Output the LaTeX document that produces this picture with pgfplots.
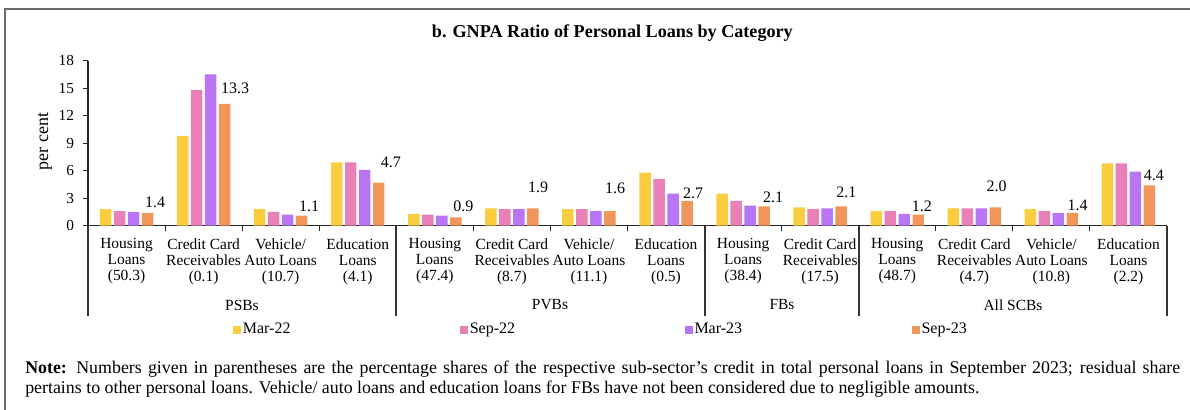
\documentclass[border=0pt]{standalone}
\usepackage{fontspec}
\setmainfont{Liberation Serif}
\usepackage{pgfplots}
\usepackage{pgfplotstable}
\pgfplotsset{compat=1.18}
\usetikzlibrary{calc}

\definecolor{cMarA}{HTML}{F9CD3D}
\definecolor{cSepA}{HTML}{E980B8}
\definecolor{cMarB}{HTML}{B876F5}
\definecolor{cSepB}{HTML}{F0965A}
\definecolor{frame}{RGB}{105,105,105}

\pgfplotsset{
  sq bar/.style={ybar, bar width=8.6pt, draw=none,
    legend image code/.code={\fill[##1] (0pt,-3pt) rectangle (6pt,3pt);}},
}

% GNPA ratio (per cent), categories 0..13
\pgfplotstableread{
x  m22  s22  m23  s23
0  1.8  1.6  1.5  1.4
1  9.8  14.8 16.5 13.3
2  1.8  1.5  1.2  1.1
3  6.9  6.9  6.1  4.7
4  1.3  1.2  1.1  0.9
5  1.9  1.8  1.8  1.9
6  1.8  1.8  1.6  1.6
7  5.8  5.1  3.5  2.7
8  3.5  2.7  2.2  2.1
9  2.0  1.8  1.9  2.1
10 1.6  1.6  1.3  1.2
11 1.9  1.9  1.9  2.0
12 1.8  1.6  1.4  1.4
13 6.8  6.8  5.9  4.4
}\gnpa

% value labels for Sep-23
\pgfplotstableread{
x     y     t
0.37  2.5   1.4
1.41  15.0  13.3
2.37  2.07  1.1
3.43  6.9   4.7
4.37  2.15  0.9
5.34  4.2   1.9
6.34  4.08  1.6
7.35  3.55  2.7
8.39  3.1   2.1
9.34  3.6   2.1
10.32 2.15  1.2
11.29 4.33  2.0
12.34 2.26  1.4
13.33 5.53  4.4
}\lbls

\begin{document}
\begin{tikzpicture}
\begin{axis}[
  scale only axis, width=809.25pt, height=123.75pt,
  xmin=-0.5, xmax=13.5, ymin=0, ymax=18,
  clip=false,
  axis x line=bottom, axis y line=left,
  axis line style={-, line width=1.1pt, black!85},
  ytick={0,3,...,18},
  xtick={0,...,13},
  minor xtick={0.5,1.5,...,12.5},
  major x tick style={draw=none},
  tick align=outside,
  major tick length=4pt, minor tick length=4pt,
  every tick/.style={line width=0.8pt, black!85},
  /pgf/number format/assume math mode=true,
  yticklabel style={font=\fontsize{11.5}{12}\selectfont, xshift=-3pt},
  xticklabel style={font=\fontsize{11.6}{12}\selectfont, align=center, yshift=-2pt},
  xticklabels={
    {Housing\\Loans\\(50.3)}, {Credit Card\\Receivables\\(0.1)}, {Vehicle/\\Auto Loans\\(10.7)}, {Education\\Loans\\(4.1)},
    {Housing\\Loans\\(47.4)}, {Credit Card\\Receivables\\(8.7)}, {Vehicle/\\Auto Loans\\(11.1)}, {Education\\Loans\\(0.5)},
    {Housing\\Loans\\(38.4)}, {Credit Card\\Receivables\\(17.5)},
    {Housing\\Loans\\(48.7)}, {Credit Card\\Receivables\\(4.7)}, {Vehicle/\\Auto Loans\\(10.8)}, {Education\\Loans\\(2.2)}},
  ylabel={per cent},
  ylabel style={at={(axis description cs:-0.0398,0.51)}, anchor=center, font=\fontsize{13.5}{14}\selectfont},
  title={\textbf{b. GNPA Ratio of Personal Loans by Category}},
  title style={at={(axis description cs:0.486,1.12)}, anchor=center, font=\fontsize{13.6}{14}\selectfont},
  legend columns=4,
  legend style={at={(axis description cs:0.134,-0.63)}, anchor=west, draw=none, fill=none,
    font=\fontsize{12}{13}\selectfont, inner sep=0pt,
    /tikz/every even column/.append style={column sep=125.5pt},
    nodes={inner sep=1.5pt}},
]
\addplot[sq bar, bar shift=-15.75pt, fill=cMarA] table[x=x, y=m22] {\gnpa};
\addlegendentry{Mar-22}
\addplot[sq bar, bar shift=-5.25pt, fill=cSepA] table[x=x, y=s22] {\gnpa};
\addlegendentry{Sep-22}
\addplot[sq bar, bar shift=5.25pt, fill=cMarB] table[x=x, y=m23] {\gnpa};
\addlegendentry{Mar-23}
\addplot[sq bar, bar shift=15.75pt, fill=cSepB] table[x=x, y=s23] {\gnpa};
\addlegendentry{Sep-23}

\addplot[draw=none, mark=none, forget plot, nodes near coords, point meta=explicit symbolic,
  every node near coord/.style={anchor=center, inner sep=0pt, font=\fontsize{12}{13}\selectfont}]
  table[x=x, y=y, meta=t] {\lbls};

% group separators
\draw[line width=1.4pt, black!80] (axis cs:-0.5,0) -- ++(0pt,-67.5pt);
\draw[line width=1.4pt, black!80] (axis cs:3.5,0) -- ++(0pt,-67.5pt);
\draw[line width=1.4pt, black!80] (axis cs:7.5,0) -- ++(0pt,-67.5pt);
\draw[line width=1.4pt, black!80] (axis cs:9.5,0) -- ++(0pt,-67.5pt);
\draw[line width=1.4pt, black!80] (axis cs:13.5,0) -- ++(0pt,-67.5pt);
\coordinate (O) at (rel axis cs:0,0);
\end{axis}

% pixel-based decorations (1px = 0.75pt, origin at image top-left)
\begin{scope}[shift={($(O)+(-66pt,169.275pt)$)}, x=0.75pt, y=-0.75pt]
  \draw[line width=1.5pt, frame] (5,410) -- (5,9) -- (1190,9);
  \begin{scope}[every node/.style={font=\fontsize{11.6}{12}\selectfont}]
    \node at (242,305) {PSBs};
    \node at (550,305) {PVBs};
    \node at (782,305) {FBs};
    \node at (1013,305) {All SCBs};
  \end{scope}
  \node[anchor=north west, inner sep=0pt, text width=866.25pt, align=justify,
        font=\fontsize{13.4}{14.4}\selectfont] at (25,361)
    {\textbf{Note:} Numbers given in parentheses are the percentage shares of the respective sub-sector's credit in total personal loans in September 2023; residual share\linebreak
     pertains to other personal loans. Vehicle/ auto loans and education loans for FBs have not been considered due to negligible amounts.};
  \pgfresetboundingbox
  \path (0,0) rectangle (1190,410);
\end{scope}
\end{tikzpicture}
\end{document}
